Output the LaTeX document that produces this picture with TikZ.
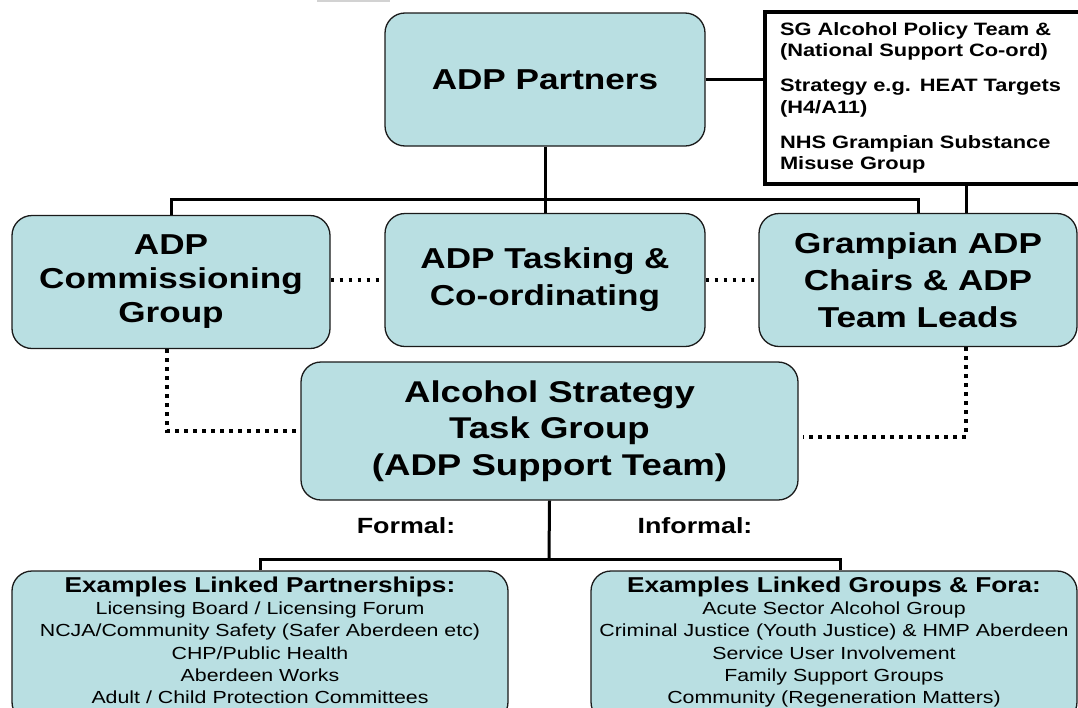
\documentclass[tikz,border=0pt]{standalone}
\usepackage{fontspec}
\setmainfont{Liberation Sans}[FakeStretch=1.22]
\usepackage{xcolor}
\usetikzlibrary{calc}
\definecolor{boxfill}{HTML}{B9DFE2}
\definecolor{edge}{HTML}{1A1A1A}
\newcommand\listhead{\bfseries\fontsize{21.5}{25}\selectfont}
\tikzset{
  unit/.style={draw=edge, line width=1.3pt, fill=boxfill, rounded corners=20pt,
    align=center, inner sep=0pt, font=\bfseries\fontsize{28.8}{37}\selectfont},
  listbox/.style={unit, minimum width=496pt, minimum height=151pt},
  policybox/.style={draw=black, line width=4pt, fill=white, align=left, inner xsep=15pt,
    text width=290pt, minimum height=172pt, font=\bfseries\fontsize{17.9}{21.5}\selectfont},
  listtxt/.style={align=center, inner sep=0pt, anchor=north, font=\fontsize{17.5}{22.3}\selectfont},
  tag/.style={font=\bfseries\fontsize{22}{26}\selectfont, inner sep=0pt},
  link/.style={draw=black, line width=3pt},
  dotlink/.style={draw=black, line width=3.5pt, dash pattern=on 3.5pt off 5.5pt},
}

\begin{document}
\begin{tikzpicture}[x=1pt, y=-1pt]
\useasboundingbox (0,0) rectangle (1078,707);
\begin{scope}
\clip (0,0) rectangle (1078,707);
\draw[gray!35, line width=2pt] (317,1) -- (390,1);

% top row
\node[unit, minimum width=320pt, minimum height=133pt] (partners) at (545,79.5) {ADP Partners};
\node[policybox, minimum width=320pt] (policy) at (925,98) {SG Alcohol Policy Team \&\\(National Support Co-ord)\\[13.5pt]
  Strategy e.g. HEAT Targets\\(H4/A11)\\[13.5pt]NHS Grampian Substance\\Misuse Group};

% middle row
\node[unit, minimum width=318pt, minimum height=133pt, font=\bfseries\fontsize{28.8}{34}\selectfont] (commis) at (171,282) {ADP\\Commissioning\\Group};
\node[unit, minimum width=320pt, minimum height=133pt] (tasking) at (545,280) {ADP Tasking \&\\Co-ordinating};
\node[unit, minimum width=318pt, minimum height=133pt] (grampian) at (918,280) {Grampian ADP\\Chairs \& ADP\\Team Leads};
\node[unit, minimum width=497pt, minimum height=138pt, font=\bfseries\fontsize{30}{36.5}\selectfont] (strat) at (549.5,431) {Alcohol Strategy\\Task Group\\(ADP Support Team)};

% bottom row
\node[tag] (formal) at (406,526) {Formal:};
\node[tag] (informal) at (695,526) {Informal:};
\node[listbox] (llink) at (260,646.5) {};
\node[listbox, minimum width=486pt] (rlink) at (834,646.5) {};
\node[listtxt] (llinktxt) at ([yshift=-6pt]llink.north) {{\listhead Examples Linked Partnerships:}\\
  Licensing Board / Licensing Forum\\NCJA/Community Safety (Safer Aberdeen etc)\\
  CHP/Public Health\\Aberdeen Works\\Adult / Child Protection Committees};
\node[listtxt] (rlinktxt) at ([yshift=-6pt]rlink.north) {{\listhead Examples Linked Groups \& Fora:}\\
  Acute Sector Alcohol Group\\Criminal Justice (Youth Justice) \& HMP Aberdeen\\
  Service User Involvement\\Family Support Groups\\Community (Regeneration Matters)};

\coordinate (bar) at (545,199);
\coordinate (pg) at (966,0);
\coordinate (bar2) at (549,559);
\coordinate (rd) at (803,437);

% connectors
\draw[link] (partners.east) -- (partners.east -| policy.west);
\draw[link] (partners.south) -- (tasking.north);
\draw[link] (commis.north) |- (bar) -| (grampian.north);
\draw[link] (policy.south -| pg) -- (grampian.north -| pg);
\draw[link] (strat.south) -- (bar2);
\draw[link] (llink.north) |- (bar2) -| ([xshift=6pt]rlink.north);
\draw[dotlink] (commis.east |- tasking.west) -- (tasking.west);
\draw[dotlink] (tasking.east) -- (grampian.west);
\draw[dotlink] ([xshift=-4pt]commis.south) |- (strat.west);
\draw[dotlink] (grampian.south -| pg) |- (rd);
\end{scope}
\end{tikzpicture}
\end{document}
